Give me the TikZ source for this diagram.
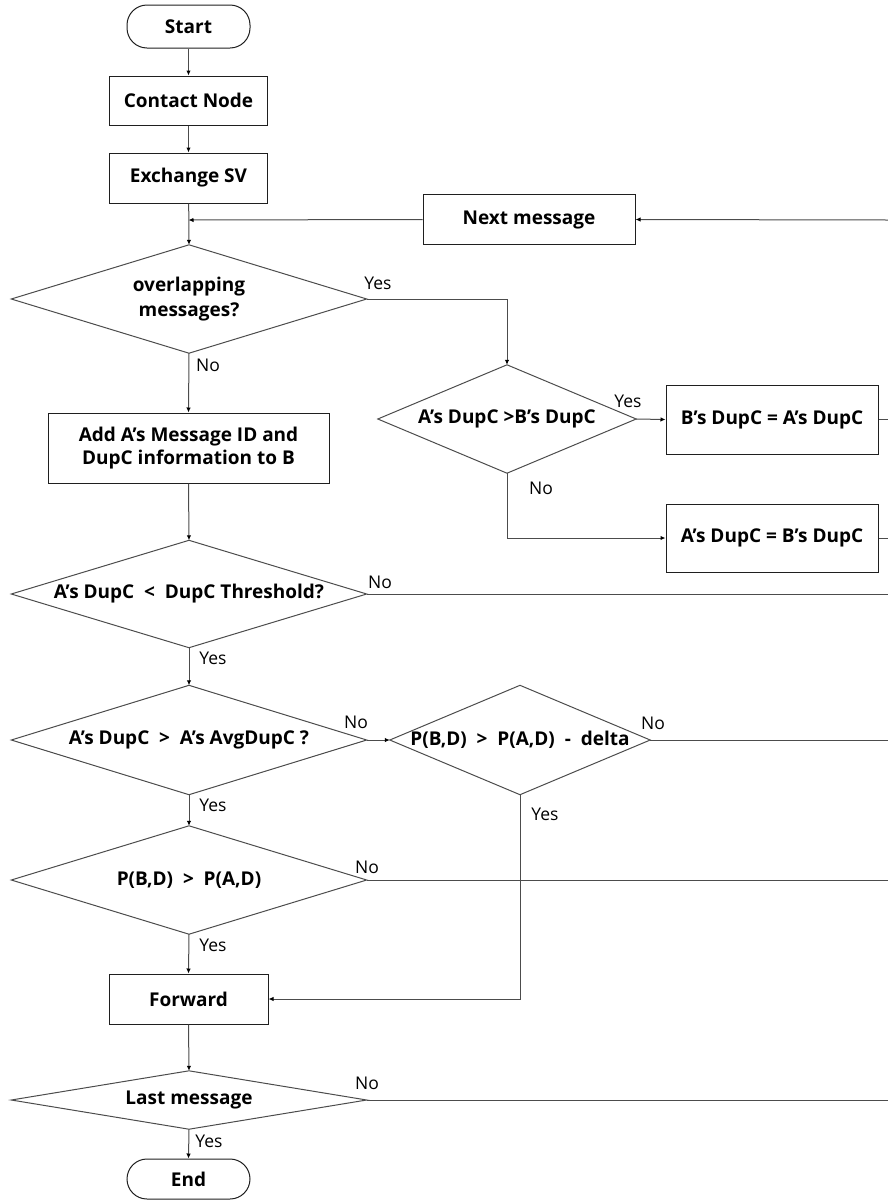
\documentclass[tikz,border=0pt]{standalone}
\usepackage{fontspec}
\setmainfont{Open Sans}
\usetikzlibrary{arrows.meta,calc}
\definecolor{ln}{gray}{0.3}
\definecolor{bx}{gray}{0.12}
\tikzset{
  box/.style={draw=bx,line width=1pt,font=\bfseries\fontsize{19}{23.5}\selectfont,align=center,inner sep=0pt},
  term/.style={box,rounded corners=20pt},
  dec/.style={inner sep=0pt,font=\bfseries\fontsize{19}{25}\selectfont,align=center},
  dline/.style={draw=ln,line width=1pt},
  conn/.style={draw=ln,line width=1pt},
  arr/.style={conn,-{Latex[length=5pt,width=4.5pt,color=black]}},
  lab/.style={font=\fontsize{17.5}{19}\selectfont,inner sep=0pt}
}
\begin{document}
\begin{tikzpicture}[x=1pt,y=-1pt]
\useasboundingbox (0,0) rectangle (888,1200);
% terminals and boxes
\node[term,minimum width=123pt,minimum height=43pt] (start) at (188.5,26.5) {Start};
\node[box,minimum width=158pt,minimum height=49pt] (contact) at (188.5,100.5) {Contact Node};
\node[box,minimum width=158pt,minimum height=50pt] (exch) at (188.5,178) {Exchange SV};
\node[box,minimum width=212pt,minimum height=50pt] (next) at (529,219.5) {Next message};
\node[box,minimum width=281pt,minimum height=70pt] (add) at (188.5,448) {Add A’s Message ID and\\DupC information to B};
\node[box,minimum width=212pt,minimum height=69pt] (bb) at (772,419.5) {B’s DupC = A’s DupC};
\node[box,minimum width=212pt,minimum height=68pt] (ab) at (772,538) {A’s DupC = B’s DupC};
\node[box,minimum width=159pt,minimum height=50pt] (fwd) at (188.5,999) {Forward};
\node[term,minimum width=123pt,minimum height=40pt] (end) at (188.5,1179) {End};
% decisions
\node[dec,minimum width=355pt,minimum height=108pt] (d1) at (189,299) {overlapping\\messages?};
\node[dec,minimum width=258pt,minimum height=108pt] (d2) at (507,419) {A’s DupC >B’s DupC};
\node[dec,minimum width=355pt,minimum height=107pt] (d3) at (189,594) {A’s DupC \ < \ DupC Threshold?};
\node[dec,minimum width=355pt,minimum height=109pt] (d4) at (189,740) {A’s DupC \ > \ A’s AvgDupC ?};
\node[dec,minimum width=260pt,minimum height=109pt] (d5) at (520,740) {P(B,D) \ > \ P(A,D) \ - \ delta};
\node[dec,minimum width=355pt,minimum height=108pt] (d6) at (189,880) {P(B,D) \ > \ P(A,D)};
\node[dec,minimum width=355pt,minimum height=58pt] (d7) at (189,1100) {Last message};
\foreach \n in {d1,d2,d3,d4,d5,d6,d7}
  \draw[dline] (\n.north) -- (\n.east) -- (\n.south) -- (\n.west) -- cycle;
% right edge coordinates
\coordinate (r0) at (888,220);
\coordinate (r1) at (888,419.5);
\coordinate (r2) at (888,538);
\coordinate (r3) at (888,594);
\coordinate (r4) at (888,740);
\coordinate (r5) at (888,880);
\coordinate (r6) at (888,1100);
\coordinate (j1) at (188.5,220);
% connectors
\draw[arr] (start) -- (contact);
\draw[arr] (contact) -- (exch);
\draw[arr] (exch) -- (d1.north);
\draw[arr] (r0) -- (next.east);
\draw[arr] (next.west) -- (j1);
\draw[arr] (d1.east) -| (d2.north);
\draw[arr] (d1.south) -- (add.north);
\draw[arr] (d2.east) -- (bb.west);
\draw[arr] (d2.south) |- (ab.west);
\draw[conn] (bb.east) -- (r1);
\draw[conn] (ab.east) -- (r2);
\draw[arr] (add.south) -- (d3.north);
\draw[conn] (d3.east) -- (r3);
\draw[arr] (d3.south) -- (d4.north);
\draw[arr] (d4.east) -- (d5.west);
\draw[conn] (d5.east) -- (r4);
\draw[arr] (d5.south) |- (fwd.east);
\draw[arr] (d4.south) -- (d6.north);
\draw[conn] (d6.east) -- (r5);
\draw[arr] (d6.south) -- (fwd.north);
\draw[arr] (fwd.south) -- (d7.north);
\draw[conn] (d7.east) -- (r6);
\draw[arr] (d7.south) -- (end.north);
% labels
\node[lab] (l1) at (378,283) {Yes};
\node[lab] (l2) at (208,365) {No};
\node[lab] (l3) at (628,401) {Yes};
\node[lab] (l4) at (541,488) {No};
\node[lab] (l5) at (380,582) {No};
\node[lab] (l6) at (213,658) {Yes};
\node[lab] (l7) at (356,722) {No};
\node[lab] (l8) at (653,723) {No};
\node[lab] (l9) at (545,814) {Yes};
\node[lab] (l10) at (213,805) {Yes};
\node[lab] (l11) at (367,867) {No};
\node[lab] (l12) at (213,945) {Yes};
\node[lab] (l13) at (367,1083) {No};
\node[lab] (l14) at (209,1141) {Yes};
\end{tikzpicture}
\end{document}
